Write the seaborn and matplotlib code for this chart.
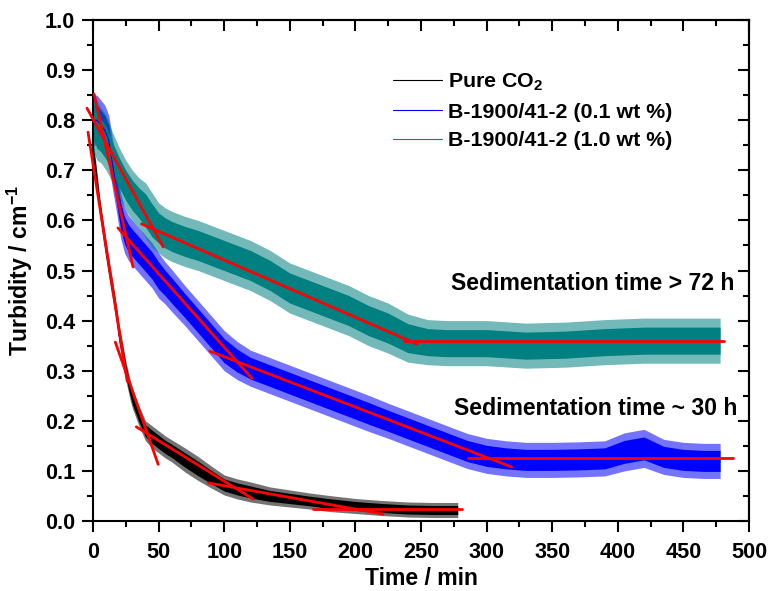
import numpy as np
import pandas as pd
import matplotlib
matplotlib.use("Agg")
import matplotlib.pyplot as plt
import seaborn as sns
from matplotlib.ticker import MultipleLocator

# ---------------- data ----------------
labels = ["Pure CO$_2$", "B-1900/41-2 (0.1 wt %)", "B-1900/41-2 (1.0 wt %)"]
colors = ["#000000", "#0000FF", "#008080"]

t_co2 = [0, 2, 5, 8, 10, 13, 15, 18, 20, 23, 25, 28, 30, 35, 40, 45, 50, 55, 60, 70,
         80, 90, 100, 110, 120, 135, 150, 165, 180, 200, 220, 240, 260, 278]
y_co2 = [0.74, 0.70, 0.63, 0.575, 0.54, 0.49, 0.46, 0.41, 0.37, 0.33, 0.30, 0.265, 0.245,
         0.21, 0.18, 0.168, 0.158, 0.148, 0.14, 0.122, 0.105, 0.088, 0.072, 0.064, 0.058,
         0.05, 0.045, 0.04, 0.035, 0.03, 0.026, 0.023, 0.022, 0.022]
s_co2 = [0.02, 0.02, 0.02, 0.02, 0.02, 0.02, 0.02, 0.02, 0.02, 0.02, 0.02, 0.02, 0.02,
         0.02, 0.02, 0.022, 0.022, 0.022, 0.022, 0.024, 0.024, 0.022, 0.02, 0.02, 0.02,
         0.018, 0.017, 0.016, 0.016, 0.015, 0.015, 0.015, 0.015, 0.015]

t_01 = [0, 3, 6, 9, 12, 15, 18, 21, 24, 27, 30, 35, 40, 45, 50, 55, 60, 70, 80, 90, 100,
        110, 120, 135, 150, 165, 180, 195, 210, 225, 240, 255, 270, 285, 300, 315, 330,
        350, 370, 390, 405, 420, 435, 450, 465, 478]
y_01 = [0.80, 0.80, 0.79, 0.78, 0.76, 0.71, 0.66, 0.61, 0.58, 0.565, 0.555, 0.54, 0.525,
        0.51, 0.49, 0.475, 0.46, 0.43, 0.40, 0.37, 0.34, 0.32, 0.305, 0.29, 0.275, 0.26,
        0.245, 0.23, 0.215, 0.20, 0.185, 0.17, 0.155, 0.14, 0.13, 0.125, 0.122, 0.122,
        0.123, 0.125, 0.138, 0.145, 0.128, 0.122, 0.12, 0.12]
s_01 = [0.05, 0.05, 0.05, 0.05, 0.05, 0.05, 0.045, 0.045, 0.045, 0.045, 0.045, 0.045,
        0.045, 0.045, 0.045, 0.042, 0.042, 0.04, 0.04, 0.04, 0.04, 0.038, 0.036, 0.036,
        0.036, 0.036, 0.036, 0.036, 0.036, 0.035, 0.035, 0.035, 0.035, 0.035, 0.035,
        0.035, 0.035, 0.035, 0.035, 0.035, 0.038, 0.038, 0.035, 0.035, 0.035, 0.035]

t_10 = [0, 3, 6, 10, 15, 20, 25, 30, 35, 40, 45, 50, 55, 60, 70, 80, 90, 100, 110, 120,
        135, 150, 165, 180, 195, 210, 225, 240, 255, 270, 300, 330, 360, 390, 420, 450, 478]
y_10 = [0.80, 0.78, 0.77, 0.755, 0.725, 0.695, 0.67, 0.65, 0.635, 0.62, 0.60, 0.585,
        0.575, 0.568, 0.558, 0.55, 0.54, 0.53, 0.52, 0.51, 0.49, 0.465, 0.45, 0.435,
        0.42, 0.40, 0.385, 0.365, 0.357, 0.355, 0.355, 0.35, 0.352, 0.357, 0.36, 0.36, 0.36]
s_10 = [0.06, 0.06, 0.055, 0.055, 0.05, 0.05, 0.05, 0.05, 0.05, 0.055, 0.055, 0.05, 0.05,
        0.05, 0.05, 0.05, 0.05, 0.05, 0.05, 0.05, 0.05, 0.05, 0.05, 0.05, 0.05, 0.05,
        0.05, 0.048, 0.045, 0.045, 0.045, 0.045, 0.045, 0.045, 0.045, 0.045, 0.045]

# linear fits (red): x-pair, y-pair
fit_x = [[-3.8, 26], [17, 49.7], [33, 122], [88, 221], [168, 281],
         [0.8, 30.5], [19, 121], [89, 319], [286, 488],
         [-4.6, 53.5], [37, 247], [237, 481]]
fit_y = [[0.776, 0.28], [0.357, 0.113], [0.188, 0.044], [0.076, 0.014], [0.024, 0.024],
         [0.852, 0.507], [0.585, 0.285], [0.339, 0.108], [0.126, 0.126],
         [0.824, 0.547], [0.593, 0.353], [0.359, 0.359]]

annot_text = ["Sedimentation time > 72 h", "Sedimentation time ~ 30 h"]
annot_x = [488.5, 491]
annot_y = [0.475, 0.2255]

x_ticks = [0, 50, 100, 150, 200, 250, 300, 350, 400, 450, 500]
y_ticks = [0.0, 0.1, 0.2, 0.3, 0.4, 0.5, 0.6, 0.7, 0.8, 0.9, 1.0]

# ---------------- style ----------------
sns.set_theme(style="ticks")
plt.rcParams["font.family"] = ["Liberation Sans", "DejaVu Sans"]
plt.rcParams["font.weight"] = "bold"
plt.rcParams["axes.labelweight"] = "bold"
for k in ["text.color", "axes.labelcolor", "xtick.color", "ytick.color", "axes.edgecolor"]:
    plt.rcParams[k] = "black"
plt.rcParams["mathtext.fontset"] = "custom"
plt.rcParams["mathtext.rm"] = "Liberation Sans:bold"
plt.rcParams["mathtext.it"] = "Liberation Sans:bold"
plt.rcParams["mathtext.bf"] = "Liberation Sans:bold"
plt.rcParams["mathtext.default"] = "rm"

fig, ax = plt.subplots(figsize=(7.7, 5.91), dpi=100)
fig.subplots_adjust(left=0.1208, right=0.9727, bottom=0.1184, top=0.9662)

series = [(t_co2, y_co2, s_co2), (t_01, y_01, s_01), (t_10, y_10, s_10)]
frames = []
for (t, y, s), lab, col in zip(series, labels, colors):
    t = np.asarray(t, float); y = np.asarray(y, float); s = np.asarray(s, float)
    ax.fill_between(t, y - s, y + s, color=col, alpha=0.55, lw=0)
    ax.fill_between(t, y - 0.6 * s, y + 0.6 * s, color=col, alpha=1.0, lw=0)
    frames.append(pd.DataFrame({"Time": t, "Turbidity": y, "Sample": lab}))
df = pd.concat(frames, ignore_index=True)

sns.lineplot(data=df, x="Time", y="Turbidity", hue="Sample",
             palette=dict(zip(labels, colors)), hue_order=labels,
             estimator=None, sort=False, lw=0.8, ax=ax)

for xs, ys in zip(fit_x, fit_y):
    ax.plot(xs, ys, color="#FF0000", lw=2.0, clip_on=False, zorder=5)

for txt, x, y in zip(annot_text, annot_x, annot_y):
    ax.text(x, y, txt, ha="right", va="center", fontsize=16.6, fontweight="bold",
            color="black")

ax.set_xlim(0, 500)
ax.set_ylim(0, 1.0)
ax.set_xticks(x_ticks)
ax.set_yticks(y_ticks)
ax.set_yticklabels([f"{v:.1f}" for v in y_ticks])
ax.xaxis.set_minor_locator(MultipleLocator(25))
ax.yaxis.set_minor_locator(MultipleLocator(0.05))
ax.tick_params(which="major", direction="out", length=8, width=1.5, labelsize=15.6, pad=5)
ax.tick_params(which="minor", direction="out", length=4, width=1.5)
ax.tick_params(axis="x", pad=7)
for sp in ax.spines.values():
    sp.set_linewidth(1.5)
    sp.set_visible(True)
    sp.set_color("black")

secx = ax.secondary_xaxis("top")
secx.set_xticks(x_ticks)
secx.xaxis.set_minor_locator(MultipleLocator(25))
secx.tick_params(which="major", direction="in", length=8, width=1.5, labeltop=False)
secx.tick_params(which="minor", direction="in", length=4, width=1.5)
secx.spines["top"].set_linewidth(1.5)
secy = ax.secondary_yaxis("right")
secy.set_yticks(y_ticks)
secy.yaxis.set_minor_locator(MultipleLocator(0.05))
secy.tick_params(which="major", direction="in", length=8, width=1.5, labelright=False)
secy.tick_params(which="minor", direction="in", length=4, width=1.5)
secy.spines["right"].set_linewidth(1.5)

ax.set_xlabel("Time / min", fontsize=16.6, fontweight="bold")
ax.set_ylabel("Turbidity / cm$^{-1}$", fontsize=16.6, fontweight="bold")
ax.xaxis.set_label_coords(0.5, -0.092)
ax.yaxis.set_label_coords(-0.088, 0.5)

handles, labs = ax.get_legend_handles_labels()
leg = ax.legend(handles, labs, frameon=False, loc="upper left",
                bbox_to_anchor=(0.457, 0.897), borderpad=0, borderaxespad=0,
                handlelength=2.3, handletextpad=0.3, labelspacing=0.45,
                prop={"family": "Liberation Sans", "weight": "bold", "size": 15.4})
for h in leg.get_lines():
    h.set_linewidth(0.8)

fig.savefig("out.png", dpi=100, facecolor="white")
